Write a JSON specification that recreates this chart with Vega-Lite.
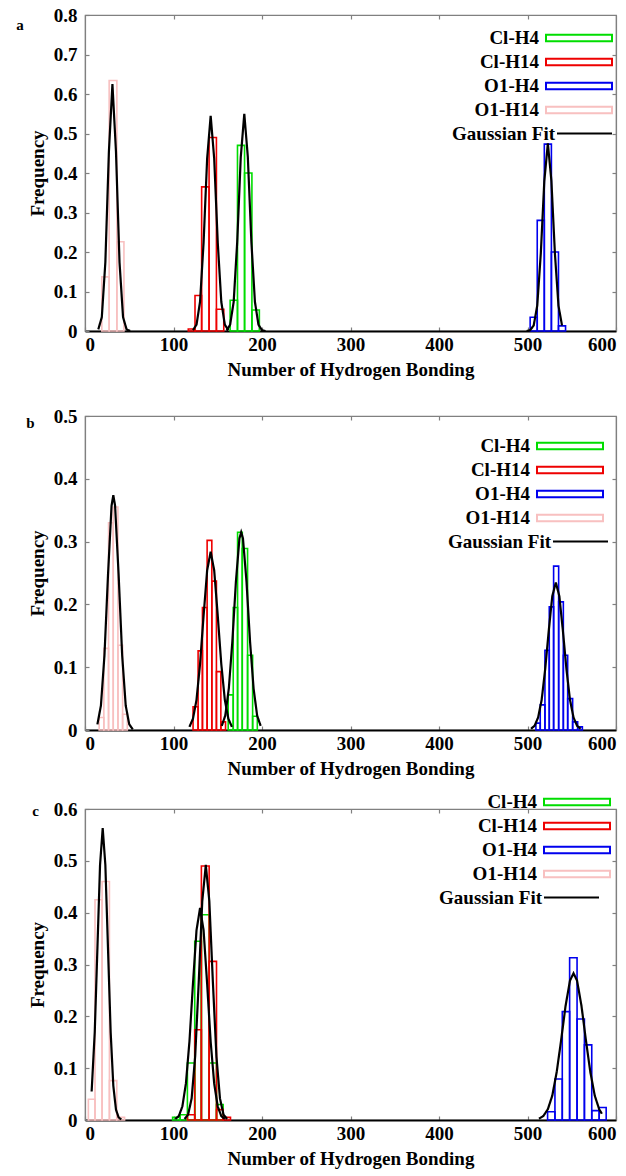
{
"$schema": "https://vega.github.io/schema/vega-lite/v6.json",
"padding": {"left": 15, "top": 5, "right": 0, "bottom": 0},
"background": "white",
"spacing": 10,
"resolve": {"scale": {"stroke": "independent", "strokeDash": "independent"}, "legend": {"stroke": "independent", "strokeDash": "independent"}},
"datasets": {
"barsA": [
{"s":"Cl-H4","x0":164,"x1":172.3,"f":0.078},{"s":"Cl-H4","x0":172.3,"x1":180.3,"f":0.47},{"s":"Cl-H4","x0":180.3,"x1":188.6,"f":0.40},{"s":"Cl-H4","x0":188.6,"x1":197,"f":0.053},
{"s":"Cl-H14","x0":116.7,"x1":124.3,"f":0.005},{"s":"Cl-H14","x0":124.3,"x1":131.8,"f":0.09},{"s":"Cl-H14","x0":131.8,"x1":140.2,"f":0.365},{"s":"Cl-H14","x0":140.2,"x1":148.5,"f":0.49},{"s":"Cl-H14","x0":148.5,"x1":156.8,"f":0.055},
{"s":"O1-H4","x0":503,"x1":511,"f":0.035},{"s":"O1-H4","x0":511,"x1":519,"f":0.28},{"s":"O1-H4","x0":519,"x1":527,"f":0.473},{"s":"O1-H4","x0":527,"x1":535,"f":0.2},{"s":"O1-H4","x0":535,"x1":543,"f":0.013},
{"s":"O1-H14","x0":19,"x1":27.3,"f":0.137},{"s":"O1-H14","x0":27.3,"x1":36,"f":0.634},{"s":"O1-H14","x0":36,"x1":44,"f":0.226}
],
"fitA": [
{"seg":"p","x":15,"y":0.004},{"seg":"p","x":19,"y":0.035},{"seg":"p","x":23,"y":0.174},{"seg":"p","x":27,"y":0.454},{"seg":"p","x":31,"y":0.625},{"seg":"p","x":35,"y":0.454},{"seg":"p","x":39,"y":0.174},{"seg":"p","x":43,"y":0.035},{"seg":"p","x":47,"y":0.004},{"seg":"p","x":51,"y":0},
{"seg":"r","x":122,"y":0.002},{"seg":"r","x":126,"y":0.016},{"seg":"r","x":130,"y":0.074},{"seg":"r","x":134,"y":0.224},{"seg":"r","x":138,"y":0.436},{"seg":"r","x":142,"y":0.545},{"seg":"r","x":146,"y":0.436},{"seg":"r","x":150,"y":0.224},{"seg":"r","x":154,"y":0.074},{"seg":"r","x":158,"y":0.016},{"seg":"r","x":162,"y":0.002},
{"seg":"g","x":160,"y":0.001},{"seg":"g","x":164,"y":0.016},{"seg":"g","x":168,"y":0.074},{"seg":"g","x":172,"y":0.226},{"seg":"g","x":176,"y":0.44},{"seg":"g","x":180,"y":0.55},{"seg":"g","x":184,"y":0.44},{"seg":"g","x":188,"y":0.226},{"seg":"g","x":192,"y":0.074},{"seg":"g","x":196,"y":0.016},{"seg":"g","x":200,"y":0.002},{"seg":"g","x":204,"y":0},
{"seg":"b","x":499,"y":0},{"seg":"b","x":503,"y":0.002},{"seg":"b","x":507,"y":0.014},{"seg":"b","x":511,"y":0.064},{"seg":"b","x":515,"y":0.195},{"seg":"b","x":519,"y":0.38},{"seg":"b","x":523,"y":0.475},{"seg":"b","x":527,"y":0.38},{"seg":"b","x":531,"y":0.195},{"seg":"b","x":535,"y":0.064},{"seg":"b","x":539,"y":0.014}
],
"barsB": [
{"s":"Cl-H4","x0":161.8,"x1":167.5,"f":0.056},{"s":"Cl-H4","x0":167.5,"x1":172.4,"f":0.195},{"s":"Cl-H4","x0":172.4,"x1":177.7,"f":0.315},{"s":"Cl-H4","x0":177.7,"x1":183.7,"f":0.289},{"s":"Cl-H4","x0":183.7,"x1":189.4,"f":0.119},{"s":"Cl-H4","x0":189.4,"x1":194.7,"f":0.022},
{"s":"Cl-H14","x0":122.1,"x1":127.8,"f":0.037},{"s":"Cl-H14","x0":127.8,"x1":132.7,"f":0.126},{"s":"Cl-H14","x0":132.7,"x1":138,"f":0.195},{"s":"Cl-H14","x0":138,"x1":143.3,"f":0.302},{"s":"Cl-H14","x0":143.3,"x1":148.5,"f":0.237},{"s":"Cl-H14","x0":148.5,"x1":153.5,"f":0.093},{"s":"Cl-H14","x0":153.5,"x1":158.8,"f":0.013},
{"s":"O1-H4","x0":509.5,"x1":514.4,"f":0.011},{"s":"O1-H4","x0":514.4,"x1":519.7,"f":0.04},{"s":"O1-H4","x0":519.7,"x1":524.6,"f":0.127},{"s":"O1-H4","x0":524.6,"x1":529.5,"f":0.196},{"s":"O1-H4","x0":529.5,"x1":535.2,"f":0.261},{"s":"O1-H4","x0":535.2,"x1":540.5,"f":0.204},{"s":"O1-H4","x0":540.5,"x1":545.4,"f":0.119},{"s":"O1-H4","x0":545.4,"x1":551,"f":0.05},{"s":"O1-H4","x0":551,"x1":556.7,"f":0.013},{"s":"O1-H4","x0":556.7,"x1":562,"f":0.005},
{"s":"O1-H14","x0":16,"x1":21.3,"f":0.02},{"s":"O1-H14","x0":21.3,"x1":26.6,"f":0.13},{"s":"O1-H14","x0":26.6,"x1":31.9,"f":0.33},{"s":"O1-H14","x0":31.9,"x1":37.2,"f":0.355},{"s":"O1-H14","x0":37.2,"x1":42.5,"f":0.135},{"s":"O1-H14","x0":42.5,"x1":47.8,"f":0.025}
],
"fitB": [
{"seg":"p","x":14,"y":0.009},{"seg":"p","x":18,"y":0.039},{"seg":"p","x":22,"y":0.119},{"seg":"p","x":26,"y":0.247},{"seg":"p","x":30,"y":0.357},{"seg":"p","x":32,"y":0.374},{"seg":"p","x":34,"y":0.357},{"seg":"p","x":38,"y":0.247},{"seg":"p","x":42,"y":0.119},{"seg":"p","x":46,"y":0.039},{"seg":"p","x":50,"y":0.009},{"seg":"p","x":54,"y":0.001},
{"seg":"r","x":118,"y":0.005},{"seg":"r","x":122,"y":0.018},{"seg":"r","x":126,"y":0.048},{"seg":"r","x":130,"y":0.105},{"seg":"r","x":134,"y":0.182},{"seg":"r","x":138,"y":0.254},{"seg":"r","x":142,"y":0.284},{"seg":"r","x":146,"y":0.254},{"seg":"r","x":150,"y":0.182},{"seg":"r","x":154,"y":0.105},{"seg":"r","x":158,"y":0.048},{"seg":"r","x":162,"y":0.018},{"seg":"r","x":166,"y":0.005},
{"seg":"g","x":154.5,"y":0.0065},{"seg":"g","x":158.5,"y":0.023},{"seg":"g","x":162.5,"y":0.066},{"seg":"g","x":166.5,"y":0.141},{"seg":"g","x":170.5,"y":0.236},{"seg":"g","x":174.5,"y":0.305},{"seg":"g","x":176.5,"y":0.315},{"seg":"g","x":178.5,"y":0.305},{"seg":"g","x":182.5,"y":0.236},{"seg":"g","x":186.5,"y":0.141},{"seg":"g","x":190.5,"y":0.066},{"seg":"g","x":194.5,"y":0.023},{"seg":"g","x":198.5,"y":0.0065},
{"seg":"b","x":504,"y":0.002},{"seg":"b","x":508,"y":0.0067},{"seg":"b","x":512,"y":0.02},{"seg":"b","x":516,"y":0.048},{"seg":"b","x":520,"y":0.097},{"seg":"b","x":524,"y":0.158},{"seg":"b","x":528,"y":0.213},{"seg":"b","x":532,"y":0.235},{"seg":"b","x":536,"y":0.213},{"seg":"b","x":540,"y":0.158},{"seg":"b","x":544,"y":0.097},{"seg":"b","x":548,"y":0.048},{"seg":"b","x":552,"y":0.02},{"seg":"b","x":556,"y":0.0067},{"seg":"b","x":560,"y":0.002}
],
"barsC": [
{"s":"Cl-H4","x0":99,"x1":107.5,"f":0.005},{"s":"Cl-H4","x0":107.5,"x1":115.7,"f":0.01},{"s":"Cl-H4","x0":115.7,"x1":124,"f":0.11},{"s":"Cl-H4","x0":124,"x1":131.5,"f":0.345},{"s":"Cl-H4","x0":131.5,"x1":140.3,"f":0.396},{"s":"Cl-H4","x0":140.3,"x1":148.6,"f":0.11},{"s":"Cl-H4","x0":148.6,"x1":156.1,"f":0.03},
{"s":"Cl-H14","x0":115.7,"x1":124,"f":0.01},{"s":"Cl-H14","x0":124,"x1":131.5,"f":0.174},{"s":"Cl-H14","x0":131.5,"x1":140.3,"f":0.49},{"s":"Cl-H14","x0":140.3,"x1":148.6,"f":0.306},{"s":"Cl-H14","x0":148.6,"x1":156.1,"f":0.02},{"s":"Cl-H14","x0":156.1,"x1":164.4,"f":0.005},
{"s":"O1-H4","x0":522.7,"x1":531,"f":0.016},{"s":"O1-H4","x0":531,"x1":539.3,"f":0.079},{"s":"O1-H4","x0":539.3,"x1":547.6,"f":0.209},{"s":"O1-H4","x0":547.6,"x1":556,"f":0.313},{"s":"O1-H4","x0":556,"x1":564.3,"f":0.195},{"s":"O1-H4","x0":564.3,"x1":572.6,"f":0.145},{"s":"O1-H4","x0":572.6,"x1":581,"f":0.018},{"s":"O1-H4","x0":581,"x1":588.9,"f":0.024},
{"s":"O1-H14","x0":3.8,"x1":11.3,"f":0.04},{"s":"O1-H14","x0":11.3,"x1":19.3,"f":0.425},{"s":"O1-H14","x0":19.3,"x1":27.6,"f":0.46},{"s":"O1-H14","x0":27.6,"x1":35.9,"f":0.076},{"s":"O1-H14","x0":35.9,"x1":44.7,"f":0.005}
],
"fitC": [
{"seg":"p","x":7.5,"y":0.055},{"seg":"p","x":11,"y":0.169},{"seg":"p","x":14,"y":0.33},{"seg":"p","x":17,"y":0.492},{"seg":"p","x":20,"y":0.563},{"seg":"p","x":23,"y":0.492},{"seg":"p","x":26,"y":0.33},{"seg":"p","x":29,"y":0.169},{"seg":"p","x":32,"y":0.066},{"seg":"p","x":35,"y":0.02},{"seg":"p","x":38,"y":0.005},{"seg":"p","x":41,"y":0.001},
{"seg":"g","x":102,"y":0.002},{"seg":"g","x":106,"y":0.0076},{"seg":"g","x":110,"y":0.026},{"seg":"g","x":114,"y":0.07},{"seg":"g","x":118,"y":0.151},{"seg":"g","x":122,"y":0.263},{"seg":"g","x":126,"y":0.366},{"seg":"g","x":130,"y":0.409},{"seg":"g","x":134,"y":0.366},{"seg":"g","x":138,"y":0.263},{"seg":"g","x":142,"y":0.151},{"seg":"g","x":146,"y":0.07},{"seg":"g","x":150,"y":0.026},{"seg":"g","x":154,"y":0.0076},{"seg":"g","x":158,"y":0.002},
{"seg":"r","x":112.5,"y":0.002},{"seg":"r","x":116.5,"y":0.0104},{"seg":"r","x":120.5,"y":0.0416},{"seg":"r","x":124.5,"y":0.123},{"seg":"r","x":128.5,"y":0.266},{"seg":"r","x":132.5,"y":0.422},{"seg":"r","x":136.5,"y":0.492},{"seg":"r","x":140.5,"y":0.422},{"seg":"r","x":144.5,"y":0.266},{"seg":"r","x":148.5,"y":0.123},{"seg":"r","x":152.5,"y":0.0416},{"seg":"r","x":156.5,"y":0.0104},{"seg":"r","x":160.5,"y":0.002},
{"seg":"b","x":513,"y":0.0025},{"seg":"b","x":518,"y":0.0079},{"seg":"b","x":523,"y":0.0208},{"seg":"b","x":528,"y":0.047},{"seg":"b","x":533,"y":0.0925},{"seg":"b","x":538,"y":0.154},{"seg":"b","x":543,"y":0.22},{"seg":"b","x":548,"y":0.269},{"seg":"b","x":552,"y":0.283},{"seg":"b","x":556,"y":0.269},{"seg":"b","x":561,"y":0.22},{"seg":"b","x":566,"y":0.154},{"seg":"b","x":571,"y":0.0925},{"seg":"b","x":576,"y":0.047},{"seg":"b","x":581,"y":0.0208},{"seg":"b","x":584,"y":0.012}
]
},
"vconcat": [
{
"width": 531, "height": 316,
"title": {"text": "a", "anchor": "start", "frame": "bounds", "fontSize": 15, "offset": 0, "dy": 27, "dx": -12},
"layer": [
{"data": {"name": "barsA"},
 "mark": {"type": "rect", "fill": "transparent", "strokeWidth": 1.6},
 "encoding": {
  "x": {"field": "x0", "type": "quantitative", "scale": {"domain": [0, 600], "nice": false}, "axis": {"values": [0,100,200,300,400,500,600], "title": "Number of Hydrogen Bonding", "domainColor": "black", "domainWidth": 2, "labelFlush": true, "labelPadding": 8}},
  "x2": {"field": "x1"},
  "y": {"field": "f", "type": "quantitative", "scale": {"domain": [0, 0.8], "nice": false}, "axis": {"values": [0,0.1,0.2,0.3,0.4,0.5,0.6,0.7,0.8], "labelExpr": "datum.value == 0 ? '0' : format(datum.value, '.1f')", "title": "Frequency"}},
  "y2": {"datum": 0},
  "stroke": {"field": "s", "type": "nominal", "scale": {"domain": ["Cl-H4","Cl-H14","O1-H4","O1-H14"], "range": ["#00dd00","#ee0000","#0000ee","#f8c0c0"]}, "legend": {"legendX": 482, "legendY": 11}}
 }},
{"data": {"name": "fitA"},
 "mark": {"type": "line", "color": "black", "strokeWidth": 2.2},
 "encoding": {
  "x": {"field": "x", "type": "quantitative", "scale": {"domain": [0, 600], "nice": false}, "axis": {"orient": "top", "labels": false, "title": null, "values": [100,200,300,400,500]}},
  "y": {"field": "y", "type": "quantitative", "scale": {"domain": [0, 0.8], "nice": false}, "axis": {"orient": "right", "labels": false, "title": null, "values": [0.1,0.2,0.3,0.4,0.5,0.6,0.7]}},
  "strokeDash": {"field": "seg", "type": "nominal", "scale": {"domain": ["p","r","g","b"], "range": [[1,0],[1,0],[1,0],[1,0]]}, "legend": {"values": ["p"], "labelExpr": "'Gaussian Fit'", "symbolType": "M-2.5,0H2.5", "symbolStrokeColor": "black", "symbolStrokeWidth": 2.2, "labelOffset": -42, "legendX": 487, "legendY": 106}}
 }}
],
"resolve": {"axis": {"x": "independent", "y": "independent"}}
},
{
"width": 531, "height": 314,
"title": {"text": "b", "anchor": "start", "frame": "bounds", "fontSize": 15, "offset": 0, "dy": 40, "dx": -2},
"layer": [
{"data": {"name": "barsB"},
 "mark": {"type": "rect", "fill": "transparent", "strokeWidth": 1.6},
 "encoding": {
  "x": {"field": "x0", "type": "quantitative", "scale": {"domain": [0, 600], "nice": false}, "axis": {"values": [0,100,200,300,400,500,600], "title": "Number of Hydrogen Bonding", "domainColor": "black", "domainWidth": 2, "labelFlush": true, "labelPadding": 8}},
  "x2": {"field": "x1"},
  "y": {"field": "f", "type": "quantitative", "scale": {"domain": [0, 0.5], "nice": false}, "axis": {"values": [0,0.1,0.2,0.3,0.4,0.5], "labelExpr": "datum.value == 0 ? '0' : format(datum.value, '.1f')", "title": "Frequency"}},
  "y2": {"datum": 0},
  "stroke": {"field": "s", "type": "nominal", "scale": {"domain": ["Cl-H4","Cl-H14","O1-H4","O1-H14"], "range": ["#00dd00","#ee0000","#0000ee","#f8c0c0"]}, "legend": {"legendX": 430, "legendY": -25, "padding": 43}}
 }},
{"data": {"name": "fitB"},
 "mark": {"type": "line", "color": "black", "strokeWidth": 2.2},
 "encoding": {
  "x": {"field": "x", "type": "quantitative", "scale": {"domain": [0, 600], "nice": false}, "axis": {"orient": "top", "labels": false, "title": null, "values": [100,200,300,400,500]}},
  "y": {"field": "y", "type": "quantitative", "scale": {"domain": [0, 0.5], "nice": false}, "axis": {"orient": "right", "labels": false, "title": null, "values": [0.1,0.2,0.3,0.4]}},
  "strokeDash": {"field": "seg", "type": "nominal", "scale": {"domain": ["p","r","g","b"], "range": [[1,0],[1,0],[1,0],[1,0]]}, "legend": {"values": ["p"], "labelExpr": "'Gaussian Fit'", "symbolType": "M-2.5,0H2.5", "symbolStrokeColor": "black", "symbolStrokeWidth": 2.2, "labelOffset": -42, "legendX": 483, "legendY": 113}}
 }}
],
"resolve": {"axis": {"x": "independent", "y": "independent"}}
},
{
"width": 531, "height": 311,
"title": {"text": "c", "anchor": "start", "frame": "bounds", "fontSize": 15, "offset": 0, "dy": 29, "dx": 4},
"layer": [
{"data": {"name": "barsC"},
 "mark": {"type": "rect", "fill": "transparent", "strokeWidth": 1.6},
 "encoding": {
  "x": {"field": "x0", "type": "quantitative", "scale": {"domain": [0, 600], "nice": false}, "axis": {"values": [0,100,200,300,400,500,600], "title": "Number of Hydrogen Bonding", "domainColor": "black", "domainWidth": 2, "labelFlush": true, "labelPadding": 8}},
  "x2": {"field": "x1"},
  "y": {"field": "f", "type": "quantitative", "scale": {"domain": [0, 0.6], "nice": false}, "axis": {"values": [0,0.1,0.2,0.3,0.4,0.5,0.6], "labelExpr": "datum.value == 0 ? '0' : format(datum.value, '.1f')", "title": "Frequency"}},
  "y2": {"datum": 0},
  "stroke": {"field": "s", "type": "nominal", "scale": {"domain": ["Cl-H4","Cl-H14","O1-H4","O1-H14"], "range": ["#00dd00","#ee0000","#0000ee","#f8c0c0"]}, "legend": {"legendX": 480, "legendY": -19}}
 }},
{"data": {"name": "fitC"},
 "mark": {"type": "line", "color": "black", "strokeWidth": 2.2},
 "encoding": {
  "x": {"field": "x", "type": "quantitative", "scale": {"domain": [0, 600], "nice": false}, "axis": {"orient": "top", "labels": false, "title": null, "values": [100,200,300,400,500]}},
  "y": {"field": "y", "type": "quantitative", "scale": {"domain": [0, 0.6], "nice": false}, "axis": {"orient": "right", "labels": false, "title": null, "values": [0.1,0.2,0.3,0.4,0.5]}},
  "strokeDash": {"field": "seg", "type": "nominal", "scale": {"domain": ["p","r","g","b"], "range": [[1,0],[1,0],[1,0],[1,0]]}, "legend": {"values": ["p"], "labelExpr": "'Gaussian Fit'", "symbolType": "M-2.5,0H2.5", "symbolStrokeColor": "black", "symbolStrokeWidth": 2.2, "labelOffset": -42, "legendX": 474, "legendY": 76}}
 }}
],
"resolve": {"axis": {"x": "independent", "y": "independent"}}
}
],
"config": {
 "font": "Liberation Serif",
 "view": {"stroke": "#808080", "strokeWidth": 1.2},
 "axis": {"grid": false, "labelFont": "Liberation Serif", "labelFontWeight": "bold", "labelFontSize": 19, "labelColor": "black", "titleFont": "Liberation Serif", "titleFontWeight": "bold", "titleFontSize": 19, "titleColor": "black", "domainColor": "#808080", "domainWidth": 1.2, "tickColor": "#808080", "tickSize": -4, "tickWidth": 1.2, "labelPadding": 12, "titlePadding": 6},
 "legend": {"orient": "none", "title": null, "symbolType": "M-3,-0.3H3V0.3H-3Z", "symbolSize": 484, "symbolStrokeWidth": 2, "symbolFillColor": "transparent", "labelFont": "Liberation Serif", "labelFontWeight": "bold", "labelFontSize": 19, "labelColor": "black", "labelAlign": "right", "labelOffset": -52, "rowPadding": 2, "labelLimit": 300},
 "title": {"font": "Liberation Serif", "fontWeight": "bold", "color": "black"}
}
}
